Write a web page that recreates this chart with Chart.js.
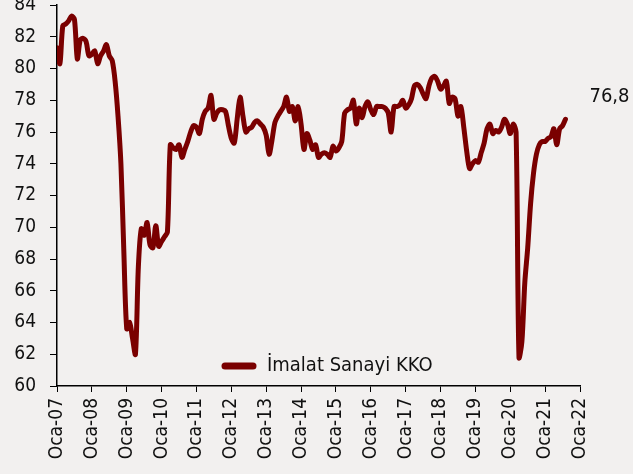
<!DOCTYPE html>
<html>
<head>
<meta charset="utf-8">
<script src="https://cdn.jsdelivr.net/npm/chart.js@4.4.1/dist/chart.umd.min.js"></script>
<style>
  html, body { margin: 0; padding: 0; background: #f2f0ef; }
  canvas { display: block; }
</style>
</head>
<body>
<canvas id="kkoChart" width="633" height="474"></canvas>
<script>
// monthly KKO values, Oca-07 .. Agu-21
const kko2007 = [81.3, 80.3, 82.7, 82.8, 83.0, 83.3, 83.1, 80.6, 81.8, 81.9, 81.7, 80.8];
const kko2008 = [80.9, 81.1, 80.3, 80.8, 81.1, 81.5, 80.8, 80.5, 79.2, 77.0, 74.0, 68.5];
const kko2009 = [63.6, 64.0, 63.0, 62.0, 67.5, 69.9, 69.5, 70.3, 68.9, 68.7, 70.1, 68.8];
const kko2010 = [69.1, 69.4, 69.7, 75.2, 75.0, 74.9, 75.2, 74.4, 74.9, 75.4, 76.0, 76.4];
const kko2011 = [76.3, 75.9, 76.8, 77.3, 77.5, 78.3, 76.8, 77.2, 77.4, 77.4, 77.3, 76.4];
const kko2012 = [75.6, 75.3, 76.8, 78.2, 77.0, 76.0, 76.2, 76.3, 76.6, 76.7, 76.5, 76.3];
const kko2013 = [75.8, 74.6, 75.5, 76.6, 77.0, 77.3, 77.6, 78.2, 77.3, 77.6, 76.7, 77.6];
const kko2014 = [76.5, 74.9, 75.9, 75.5, 74.9, 75.2, 74.4, 74.6, 74.7, 74.6, 74.4, 75.1];
const kko2015 = [74.8, 75.0, 75.4, 77.2, 77.4, 77.5, 78.0, 76.5, 77.5, 76.9, 77.6, 77.9];
const kko2016 = [77.4, 77.1, 77.6, 77.6, 77.6, 77.5, 77.2, 76.0, 77.6, 77.6, 77.7, 78.0];
const kko2017 = [77.5, 77.7, 78.1, 78.9, 79.0, 78.8, 78.4, 78.1, 78.9, 79.4, 79.5, 79.2];
const kko2018 = [78.7, 78.9, 79.2, 77.8, 78.2, 78.1, 77.0, 77.6, 76.3, 74.8, 73.7, 74.0];
const kko2019 = [74.2, 74.1, 74.7, 75.3, 76.2, 76.5, 75.9, 76.1, 76.0, 76.3, 76.8, 76.5];
const kko2020 = [75.9, 76.5, 76.0, 61.8, 62.8, 66.5, 68.7, 71.5, 73.4, 74.6, 75.2, 75.4];
const kko2021 = [75.4, 75.6, 75.7, 76.2, 75.2, 76.2, 76.4, 76.8];

const kko = [].concat(kko2007, kko2008, kko2009, kko2010, kko2011, kko2012, kko2013,
  kko2014, kko2015, kko2016, kko2017, kko2018, kko2019, kko2020, kko2021);

const tickLabels = ['Oca-07', 'Oca-08', 'Oca-09', 'Oca-10', 'Oca-11', 'Oca-12', 'Oca-13', 'Oca-14',
  'Oca-15', 'Oca-16', 'Oca-17', 'Oca-18', 'Oca-19', 'Oca-20', 'Oca-21', 'Oca-22'];
const seriesName = 'İmalat Sanayi KKO';
const lastLabel = '76,8';

const lineColor = '#7a0000';
const fontFamily = '"DejaVu Sans Condensed", "Liberation Sans", sans-serif';

// legend inside the plot + value label next to the last point
const overlay = {
  id: 'overlay',
  afterDraw(chart) {
    const ctx = chart.ctx;
    const area = chart.chartArea;
    const xs = chart.scales.x, ys = chart.scales.y;
    ctx.save();
    // legend
    const ly = area.bottom - 20;
    const lx = area.left + 168;
    ctx.strokeStyle = lineColor;
    ctx.lineWidth = 7;
    ctx.lineCap = 'round';
    ctx.beginPath();
    ctx.moveTo(lx, ly);
    ctx.lineTo(lx + 28, ly);
    ctx.stroke();
    ctx.fillStyle = '#111';
    ctx.font = '20px ' + fontFamily;
    ctx.textBaseline = 'middle';
    ctx.textAlign = 'left';
    ctx.fillText(seriesName, lx + 42, ly);
    // last value
    const li = kko.length - 1;
    ctx.fillText(lastLabel, xs.getPixelForValue(li) + 24, ys.getPixelForValue(kko[li]) - 23);
    ctx.restore();
  }
};

new Chart(document.getElementById('kkoChart'), {
  type: 'line',
  data: {
    datasets: [{
      label: seriesName,
      data: kko.map((v, i) => ({ x: i, y: v })),
      borderColor: lineColor,
      borderWidth: 5,
      borderCapStyle: 'round',
      borderJoinStyle: 'round',
      pointRadius: 0,
      tension: 0.3,
      fill: false
    }]
  },
  options: {
    responsive: false,
    animation: false,
    devicePixelRatio: 1,
    layout: { padding: { top: 5, right: 53, left: 0, bottom: 0 } },
    plugins: { legend: { display: false }, tooltip: { enabled: false } },
    scales: {
      x: {
        type: 'linear',
        min: 0,
        max: 180,
        afterFit(s) { s.height = 88; },
        ticks: {
          stepSize: 12,
          autoSkip: false,
          minRotation: 90,
          maxRotation: 90,
          padding: 6,
          color: '#111',
          font: { family: fontFamily, size: 19 },
          callback: (v) => tickLabels[v / 12]
        },
        grid: { drawOnChartArea: false, tickLength: 6, color: '#000' },
        border: { color: '#000', width: 1.5 }
      },
      y: {
        min: 60,
        max: 84,
        afterFit(s) { s.width = 57; s.paddingTop = 0; s.paddingBottom = 0; },
        ticks: {
          stepSize: 2,
          padding: 14,
          color: '#111',
          font: { family: fontFamily, size: 19 }
        },
        grid: { drawOnChartArea: false, tickLength: 7, color: '#000' },
        border: { color: '#000', width: 1.5 }
      }
    }
  },
  plugins: [overlay]
});
</script>
</body>
</html>
